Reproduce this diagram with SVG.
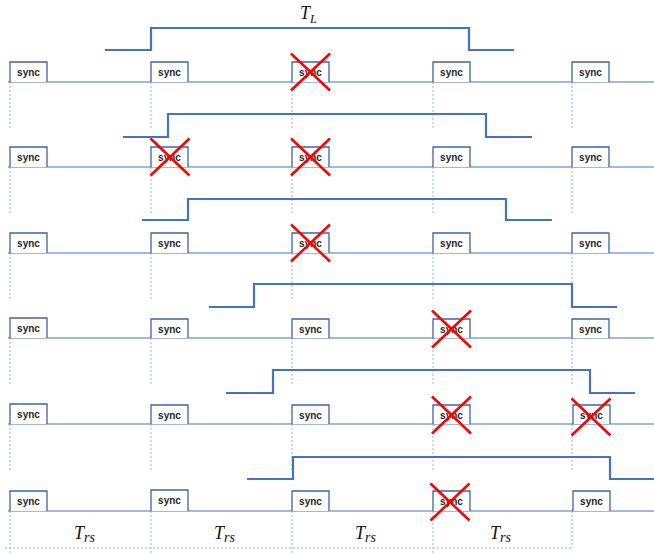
<svg xmlns="http://www.w3.org/2000/svg" width="654" height="555" viewBox="0 0 654 555">
<style>
.bg{fill:#ffffff}
.base{stroke:#4472C4;stroke-width:1.2;fill:none}
.pulse{stroke:#4472C4;stroke-width:2.2;fill:none}
.dot{stroke:#9FB4DA;stroke-width:1;stroke-dasharray:2,2;fill:none}
.box{fill:#ffffff;stroke:#3F63A6;stroke-width:1.3}
.lbl{font-family:"Liberation Sans",Arial,sans-serif;font-weight:bold;font-size:10px;fill:#262626;text-anchor:middle}
.x{stroke:#FF0000;stroke-width:2.5;fill:none}
.math{font-family:"Liberation Serif","Times New Roman",serif;font-style:italic;fill:#111}
</style>
<defs>
<path id="cross" class="x" d="M-19.5,-18.5 L19.5,18.5 M19.5,-18.5 L-19.5,18.5"/>
</defs>
<rect class="bg" x="0" y="0" width="654" height="555"/>
<g id="connectors">
<path class="dot" d="M10,82V128 M151,82V128 M292,82V128 M433,82V128 M572,82V128"/>
<path class="dot" d="M10,167V213 M151,167V213 M292,167V213 M433,167V213 M572,167V213"/>
<path class="dot" d="M10,253V299 M151,253V299 M292,253V299 M433,253V299 M572,253V299"/>
<path class="dot" d="M10,338V384 M151,338V384 M292,338V384 M433,338V384 M572,338V384"/>
<path class="dot" d="M10,424V470 M151,424V470 M292,424V470 M433,424V470 M572,424V470"/>
<path class="dot" d="M10,511V555 M151,511V555 M292,511V555 M433,511V555 M572,511V548"/>
<path class="dot" d="M5,548H573"/>
<path class="base" d="M8,82H654 M8,167H654 M8,253H654 M8,338H654 M8,424H654 M8,511H654"/>
<path class="pulse" d="M105,50H151V28H469V50H514"/>
<path class="pulse" d="M123,137H168V114H486V137H532"/>
<path class="pulse" d="M142,220H188V199H506V220H552"/>
<path class="pulse" d="M209,307H254V284H572V307H617"/>
<path class="pulse" d="M226,393H273V370H590V393H635"/>
<path class="pulse" d="M247,479H293V457H610V479H654"/>
</g>
<g id="row1">
<g id="s11"><path class="box" d="M10,82V62H47V82"/><text class="lbl" x="28.5" y="76">sync</text></g>
<g id="s12"><path class="box" d="M151,82V62H188V82"/><text class="lbl" x="169.5" y="76">sync</text></g>
<g id="s13"><path class="box" d="M292,82V62H329V82"/><text class="lbl" x="310.5" y="76">sync</text><use href="#cross" x="310.5" y="72"/></g>
<g id="s14"><path class="box" d="M433,82V62H470V82"/><text class="lbl" x="451.5" y="76">sync</text></g>
<g id="s15"><path class="box" d="M572,82V62H609V82"/><text class="lbl" x="590.5" y="76">sync</text></g>
</g>
<g id="row2">
<g id="s21"><path class="box" d="M10,167V147H47V167"/><text class="lbl" x="28.5" y="161">sync</text></g>
<g id="s22"><path class="box" d="M151,167V147H188V167"/><text class="lbl" x="169.5" y="161">sync</text><use href="#cross" x="170" y="157"/></g>
<g id="s23"><path class="box" d="M292,167V147H329V167"/><text class="lbl" x="310.5" y="161">sync</text><use href="#cross" x="310.5" y="157"/></g>
<g id="s24"><path class="box" d="M433,167V147H470V167"/><text class="lbl" x="451.5" y="161">sync</text></g>
<g id="s25"><path class="box" d="M572,167V147H609V167"/><text class="lbl" x="590.5" y="161">sync</text></g>
</g>
<g id="row3">
<g id="s31"><path class="box" d="M10,253V233H47V253"/><text class="lbl" x="28.5" y="247">sync</text></g>
<g id="s32"><path class="box" d="M151,253V233H188V253"/><text class="lbl" x="169.5" y="247">sync</text></g>
<g id="s33"><path class="box" d="M292,253V233H329V253"/><text class="lbl" x="310.5" y="247">sync</text><use href="#cross" x="310.5" y="243"/></g>
<g id="s34"><path class="box" d="M433,253V233H470V253"/><text class="lbl" x="451.5" y="247">sync</text></g>
<g id="s35"><path class="box" d="M572,253V233H609V253"/><text class="lbl" x="590.5" y="247">sync</text></g>
</g>
<g id="row4">
<g id="s41"><path class="box" d="M10,338V318H47V338"/><text class="lbl" x="28.5" y="332">sync</text></g>
<g id="s42"><path class="box" d="M151,338V319H188V338"/><text class="lbl" x="169.5" y="333">sync</text></g>
<g id="s43"><path class="box" d="M292,338V319H329V338"/><text class="lbl" x="310.5" y="333">sync</text></g>
<g id="s44"><path class="box" d="M433,338V319H470V338"/><text class="lbl" x="451.5" y="333">sync</text><use href="#cross" x="451.5" y="329"/></g>
<g id="s45"><path class="box" d="M572,338V319H609V338"/><text class="lbl" x="590.5" y="333">sync</text></g>
</g>
<g id="row5">
<g id="s51"><path class="box" d="M10,424V404H47V424"/><text class="lbl" x="28.5" y="418">sync</text></g>
<g id="s52"><path class="box" d="M151,424V405H188V424"/><text class="lbl" x="169.5" y="419">sync</text></g>
<g id="s53"><path class="box" d="M292,424V405H329V424"/><text class="lbl" x="310.5" y="419">sync</text></g>
<g id="s54"><path class="box" d="M433,424V405H470V424"/><text class="lbl" x="451.5" y="419">sync</text><use href="#cross" x="451.5" y="415"/></g>
<g id="s55"><path class="box" d="M573,424V405H610V424"/><text class="lbl" x="591.5" y="419">sync</text><use href="#cross" x="591" y="417"/></g>
</g>
<g id="row6">
<g id="s61"><path class="box" d="M10,511V491H47V511"/><text class="lbl" x="28.5" y="505">sync</text></g>
<g id="s62"><path class="box" d="M151,511V490H188V511"/><text class="lbl" x="169.5" y="504">sync</text></g>
<g id="s63"><path class="box" d="M292,511V491H329V511"/><text class="lbl" x="310.5" y="505">sync</text></g>
<g id="s64"><path class="box" d="M433,511V491H470V511"/><text class="lbl" x="451.5" y="505">sync</text><use href="#cross" x="450" y="502"/></g>
<g id="s65"><path class="box" d="M573,511V491H610V511"/><text class="lbl" x="591.5" y="505">sync</text></g>
</g>
<g id="labels">
<text class="math" x="300" y="19" font-size="18">T<tspan font-size="12" dy="4">L</tspan></text>
<text class="math" x="74" y="539" font-size="18">T<tspan font-size="14" dy="3">rs</tspan></text>
<text class="math" x="214" y="539" font-size="18">T<tspan font-size="14" dy="3">rs</tspan></text>
<text class="math" x="355" y="539" font-size="18">T<tspan font-size="14" dy="3">rs</tspan></text>
<text class="math" x="490" y="539" font-size="18">T<tspan font-size="14" dy="3">rs</tspan></text>
</g>
</svg>
